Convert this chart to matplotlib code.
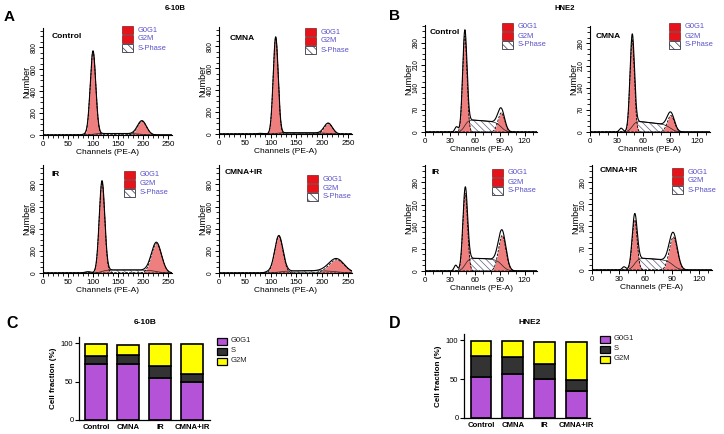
import numpy as np
import matplotlib
matplotlib.use("Agg")
import matplotlib.pyplot as plt
from matplotlib.ticker import MultipleLocator
from matplotlib.patches import Rectangle

plt.rcParams['font.family'] = ['Liberation Sans', 'DejaVu Sans']
plt.rcParams['hatch.linewidth'] = 0.5

# ---------------- data ----------------
conditions = ['Control', 'CMNA', 'IR', 'CMNA+IR']
phase_labels = ['G0G1', 'G2M', 'S-Phase']

# Panel A (6-10B) ModFit components, channel units / counts
a_g1_center = [100, 110, 118, 116]
a_g1_height = [760, 880, 820, 330]
a_g1_sigma = [5.5, 4.8, 5.5, 8.0]
a_g2_center = [198, 212, 227, 228]
a_g2_height = [125, 95, 265, 120]
a_g2_sigma = [9.0, 8.0, 10.0, 15.0]
a_s_left = [14, 12, 28, 18]
a_s_right = [12, 10, 26, 22]
a_deb_center = [85, 80, 90, 95]
a_deb_height = [8, 6, 12, 10]

# Panel B (HNE2)
b_g1_center = [48, 47.5, 48.5, 48]
b_g1_height = [300, 292, 245, 160]
b_g1_sigma = [2.6, 2.5, 2.8, 2.8]
b_g2_center = [92, 91, 93, 91.5]
b_g2_height = [60, 52, 112, 105]
b_g2_sigma = [4.0, 4.0, 4.5, 4.5]
b_s_left = [40, 36, 42, 40]
b_s_right = [30, 22, 36, 30]
b_deb_center = [38, 35, 37, 36]
b_deb_height = [16, 12, 18, 10]

# Panels C / D stacked bars (%)
bar_groups = ['Control', 'CMNA', 'IR', 'CMNA+IR']
bar_phases = ['G0G1', 'S', 'G2M']
c_g0g1 = [72.5, 73.5, 55.0, 50.0]
c_s = [10.5, 10.5, 15.0, 9.5]
c_g2m = [15.5, 13.5, 29.0, 39.5]
d_g0g1 = [52.5, 56.0, 50.5, 34.5]
d_s = [27.5, 23.0, 19.5, 15.0]
d_g2m = [19.5, 20.5, 27.5, 48.5]

# ---------------- layout helpers ----------------
W, H = 724, 434
fig = plt.figure(figsize=(W / 100, H / 100), dpi=100)


def ax_px(left, top, right, bottom):
    return fig.add_axes([left / W, 1 - bottom / H, (right - left) / W, (bottom - top) / H])


def ftext(x, y, s, **kw):
    fig.text(x / W, 1 - y / H, s, **kw)


FILL = '#EF7E7E'
LEG_RED = '#E8121A'
LEG_TXT = '#5A52C8'
HATCH_C = '#5E5E80'


def gauss(x, c, h, s):
    return h * np.exp(-0.5 * ((x - c) / s) ** 2)


def histo(ax, xmax, ymax, g1c, g1h, g1s, g2c, g2h, g2s, sl, sr, dc, dh,
          xmaj, xmin_, ymaj, ymin_, ds):
    x = np.linspace(0, xmax, 1200)
    g1 = gauss(x, g1c, g1h, g1s)
    g2 = gauss(x, g2c, g2h, g2s)
    frac = np.clip((x - g1c) / (g2c - g1c), 0, 1)
    level = sl + (sr - sl) * frac
    s = level * 0.5 * (1 + np.tanh((x - g1c) / (1.8 * g1s))) * 0.5 * (1 + np.tanh((g2c - x) / (1.5 * g2s)))
    deb = gauss(x, dc, dh, ds)
    total = g1 + g2 + s + deb
    ax.fill_between(x, 0, s, facecolor='white', edgecolor=HATCH_C, hatch='\\\\\\\\\\', linewidth=0)
    ax.plot(x, s, color='#222222', lw=0.5)
    ax.fill_between(x, 0, g1, color=FILL, lw=0)
    ax.fill_between(x, 0, g2, color=FILL, lw=0)
    ax.plot(x, g1, color='k', lw=0.6, ls=(0, (3, 1.5)))
    ax.plot(x, g2, color='k', lw=0.6, ls=(0, (3, 1.5)))
    ax.plot(x, total, color='k', lw=0.8)
    ax.set_xlim(0, xmax)
    ax.set_ylim(0, ymax)
    for sp in ['top', 'right']:
        ax.spines[sp].set_visible(False)
    for sp in ['left', 'bottom']:
        ax.spines[sp].set_linewidth(0.8)
    ax.xaxis.set_major_locator(MultipleLocator(xmaj))
    ax.xaxis.set_minor_locator(MultipleLocator(xmin_))
    ax.yaxis.set_major_locator(MultipleLocator(ymaj))
    ax.yaxis.set_minor_locator(MultipleLocator(ymin_))
    ax.tick_params(which='major', length=3.2, width=0.7, labelsize=5.8, pad=1)
    ax.tick_params(which='minor', length=2, width=0.6)
    ax.tick_params(axis='y', labelsize=4.8, pad=0.5)
    for lab in ax.get_yticklabels():
        lab.set_rotation(90)
        lab.set_va('center')
    ax.set_xlabel('Channels (PE-A)', fontsize=6, labelpad=0.5)
    ax.set_ylabel('Number', fontsize=6.5, labelpad=0)


def legend_px(x, y):
    # x: left of boxes, y: center of first row (pixels)
    for i, lab in enumerate(phase_labels):
        yy = y + i * 9
        if i < 2:
            r = Rectangle(((x) / W, 1 - (yy + 4) / H), 11 / W, 8 / H, transform=fig.transFigure,
                          facecolor=LEG_RED, edgecolor='#600000', lw=0.4)
        else:
            r = Rectangle(((x) / W, 1 - (yy + 4) / H), 11 / W, 8 / H, transform=fig.transFigure,
                          facecolor='white', edgecolor='#333344', lw=0.6, hatch='\\\\\\\\')
        fig.patches.append(r)
        ftext(x + 16, yy, lab, fontsize=5.4, color=LEG_TXT, va='center', ha='left')


# Panel A axes (left, top, right, bottom) in px
a_rects = [(43, 28, 172, 135), (219, 27, 352, 134), (43, 165, 172, 273), (219, 165, 352, 273)]
a_leg = [(122, 30), (305, 32), (124, 175), (307, 179)]
a_cond = [(52, 37), (230, 38), (52, 175), (225, 172)]
b_rects = [(425, 25, 537, 132), (590, 26, 710, 132), (425, 165, 537, 271), (592, 165, 712, 270)]
b_leg = [(502, 27), (669, 27), (492, 173), (672, 172)]
b_cond = [(430, 33), (596, 36), (432, 173), (600, 170)]

for i in range(4):
    ax = ax_px(*a_rects[i])
    histo(ax, 258, 975, a_g1_center[i], a_g1_height[i], a_g1_sigma[i],
          a_g2_center[i], a_g2_height[i], a_g2_sigma[i], a_s_left[i], a_s_right[i],
          a_deb_center[i], a_deb_height[i], 50, 10, 200, 50, 6)
    legend_px(*a_leg[i])
    ftext(a_cond[i][0], a_cond[i][1], conditions[i], fontsize=6, fontweight='bold', va='center')

for i in range(4):
    ax = ax_px(*b_rects[i])
    histo(ax, 135, 335, b_g1_center[i], b_g1_height[i], b_g1_sigma[i],
          b_g2_center[i], b_g2_height[i], b_g2_sigma[i], b_s_left[i], b_s_right[i],
          b_deb_center[i], b_deb_height[i], 30, 10, 70, 17.5, 2.0)
    legend_px(*b_leg[i])
    ftext(b_cond[i][0], b_cond[i][1], conditions[i], fontsize=6, fontweight='bold', va='center')

# Panel labels / titles
ftext(9, 17, 'A', fontsize=11, fontweight='bold', ha='center', va='center')
ftext(395, 16, 'B', fontsize=11, fontweight='bold', ha='center', va='center')
ftext(175, 8, '6-10B', fontsize=5.6, fontweight='bold', ha='center', va='center')
ftext(565, 8, 'HNE2', fontsize=5.6, fontweight='bold', ha='center', va='center')
ftext(12, 323, 'C', fontsize=11.5, fontweight='bold', ha='center', va='center')
ftext(395, 324, 'D', fontsize=11.5, fontweight='bold', ha='center', va='center')

PURPLE = '#B553D8'
DARK = '#333333'
YEL = '#FFFF00'


def stacked(rect, g0, s, g2, title, title_xy, leg_x, leg_y, x0px, dxpx):
    ax = ax_px(*rect)
    x = np.arange(len(bar_groups))
    kw = dict(width=0.66, edgecolor='black', linewidth=1.2)
    ax.bar(x, g0, color=PURPLE, **kw)
    ax.bar(x, s, bottom=g0, color=DARK, **kw)
    ax.bar(x, g2, bottom=np.array(g0) + np.array(s), color=YEL, **kw)
    left, top, right, bottom = rect
    ax.set_xlim((left - x0px) / dxpx, (right - x0px) / dxpx)
    ax.set_ylim(0, 108)
    ax.set_yticks([0, 50, 100])
    ax.set_xticks(x)
    ax.set_xticklabels(bar_groups, fontweight='bold')
    for sp in ['top', 'right']:
        ax.spines[sp].set_visible(False)
    for sp in ['left', 'bottom']:
        ax.spines[sp].set_linewidth(0.9)
    ax.tick_params(axis='y', length=3, width=0.8, labelsize=5.5, pad=1)
    ax.tick_params(axis='x', length=0, labelsize=5.6, pad=3)
    ax.set_ylabel('Cell fraction (%)', fontsize=5.8, fontweight='bold', labelpad=3)
    ftext(title_xy[0], title_xy[1], title, fontsize=6, fontweight='bold', ha='center', va='center')
    for i, (lab, col) in enumerate(zip(bar_phases, [PURPLE, DARK, YEL])):
        yy = leg_y + i * 10
        r = Rectangle((leg_x / W, 1 - (yy + 3.5) / H), 10 / W, 7 / H, transform=fig.transFigure,
                      facecolor=col, edgecolor='black', lw=0.9)
        fig.patches.append(r)
        ftext(leg_x + 14, yy, lab, fontsize=5.5, va='center', ha='left', color='#222222')


stacked((79, 337, 210, 420), c_g0g1, c_s, c_g2m, '6-10B', (145, 322), 217, 341, 96, 32)
stacked((464, 334, 590, 418), d_g0g1, d_s, d_g2m, 'HNE2', (530, 322), 600, 339, 481, 31.7)

fig.savefig('out.png', dpi=100)
